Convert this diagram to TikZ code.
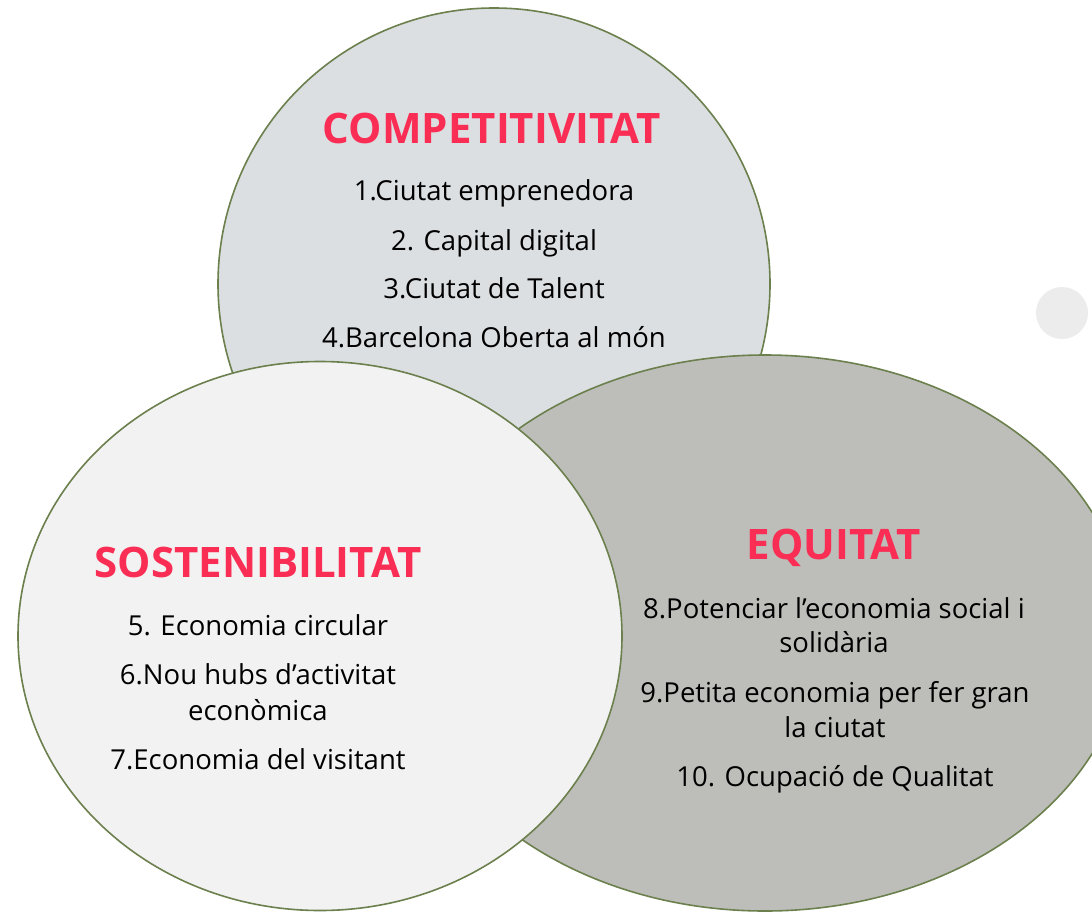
\documentclass[tikz,border=0pt]{standalone}
\usepackage{fontspec}
\setmainfont{Open Sans}
\definecolor{topfill}{RGB}{220,223,226}
\definecolor{leftfill}{RGB}{242,242,242}
\definecolor{rightfill}{RGB}{189,190,185}
\definecolor{rim}{RGB}{108,128,78}
\definecolor{titlered}{RGB}{250,45,85}
\definecolor{dotgray}{RGB}{236,236,236}
\definecolor{txt}{RGB}{0,0,0}
\tikzset{
  blob/.style={draw=rim, line width=1.6pt},
  heading/.style={anchor=base, font=\fontsize{42}{46}\selectfont\bfseries, text=titlered, inner sep=0pt},
  item/.style={anchor=base, font=\fontsize{27.5}{34}\selectfont, text=txt, inner sep=0pt}
}
\begin{document}
\begin{tikzpicture}[x=1pt,y=-1pt]
\useasboundingbox (0,0) rectangle (1092,913);
\clip (0,0) rectangle (1092,913);
\fill[white] (0,0) rectangle (1092,913);
% circles
\path[blob, fill=topfill] (494,284) circle [radius=276];
\path[blob, fill=rightfill] (765,633) ellipse [x radius=363, y radius=278];
\path[blob, fill=leftfill] (320,636) ellipse [x radius=302, y radius=274.5];
\fill[dotgray] (1062,313) circle [radius=26];
% top
\node[heading] (t0) at (492,143) {COMPETITIVITAT};
\node[item] (t1) at (494,200) {1.Ciutat emprenedora};
\node[item] (t2) at (494,250) {2. Capital digital};
\node[item] (t3) at (494,298) {3.Ciutat de Talent};
\node[item] (t4) at (494,347) {4.Barcelona Oberta al món};
% left
\node[heading] (l0) at (258,577) {SOSTENIBILITAT};
\node[item] (l1) at (258,635) {5. Economia circular};
\node[item] (l2) at (258,684) {6.Nou hubs d’activitat};
\node[item] (l2b) at (258,720) {econòmica};
\node[item] (l3) at (258,769) {7.Economia del visitant};
% right
\node[heading] (r0) at (834,559) {EQUITAT};
\node[item] (r1) at (834,618) {8.Potenciar l’economia social i};
\node[item] (r1b) at (834,652) {solidària};
\node[item] (r2) at (835,702) {9.Petita economia per fer gran};
\node[item] (r2b) at (835,737) {la ciutat};
\node[item] (r3) at (835,786) {10. Ocupació de Qualitat};
\end{tikzpicture}
\end{document}
